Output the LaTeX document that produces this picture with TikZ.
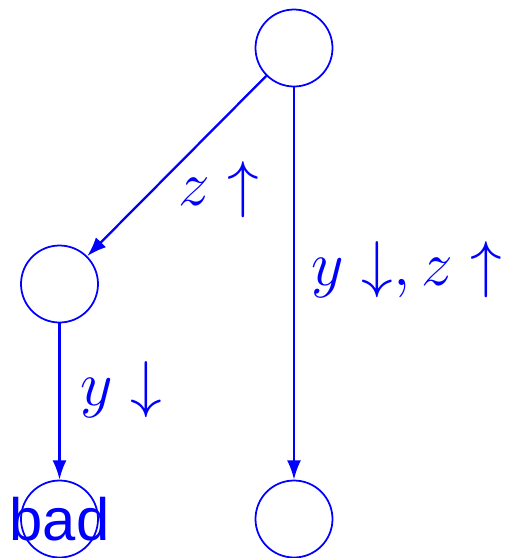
\documentclass[tikz,border=0pt]{standalone}
\usepackage{fix-cm}
\usepackage{fontspec}
\setsansfont{Liberation Sans}
\usetikzlibrary{arrows.meta}
\tikzset{
  state/.style={circle, draw=blue, line width=1pt, minimum size=1.54cm, inner sep=0pt},
  edge/.style={draw=blue, line width=1.3pt, -{Latex[length=11pt,width=8pt]}},
  lbl/.style={text=blue, font=\fontsize{36}{40}\selectfont},
  badlbl/.style={text=blue, font=\sffamily\fontsize{34}{38}\selectfont}
}
\begin{document}
\begin{tikzpicture}[scale=2]
	\useasboundingbox (0,0) rectangle (5.10,-5.58);
	\node[state] (root) at (2.94, -0.48) {};
	\node[state] (mid) at (0.595, -2.84) {};
	\node[state, label={[badlbl]center:bad}] (bad) at (0.595, -5.19) {};
	\node[state] (leaf) at (2.94, -5.19) {};
	\draw[edge] (root) -- (mid);
	\draw[edge] (root) -- (leaf);
	\draw[edge] (mid) -- (bad);
	\node[lbl] (zup) at (2.19, -1.90) {$z\uparrow$};
	\node[lbl] (yzl) at (4.07, -2.70) {$y\downarrow, z\uparrow$};
	\node[lbl] (ydn) at (1.21, -3.90) {$y\downarrow$};
\end{tikzpicture}
\end{document}
